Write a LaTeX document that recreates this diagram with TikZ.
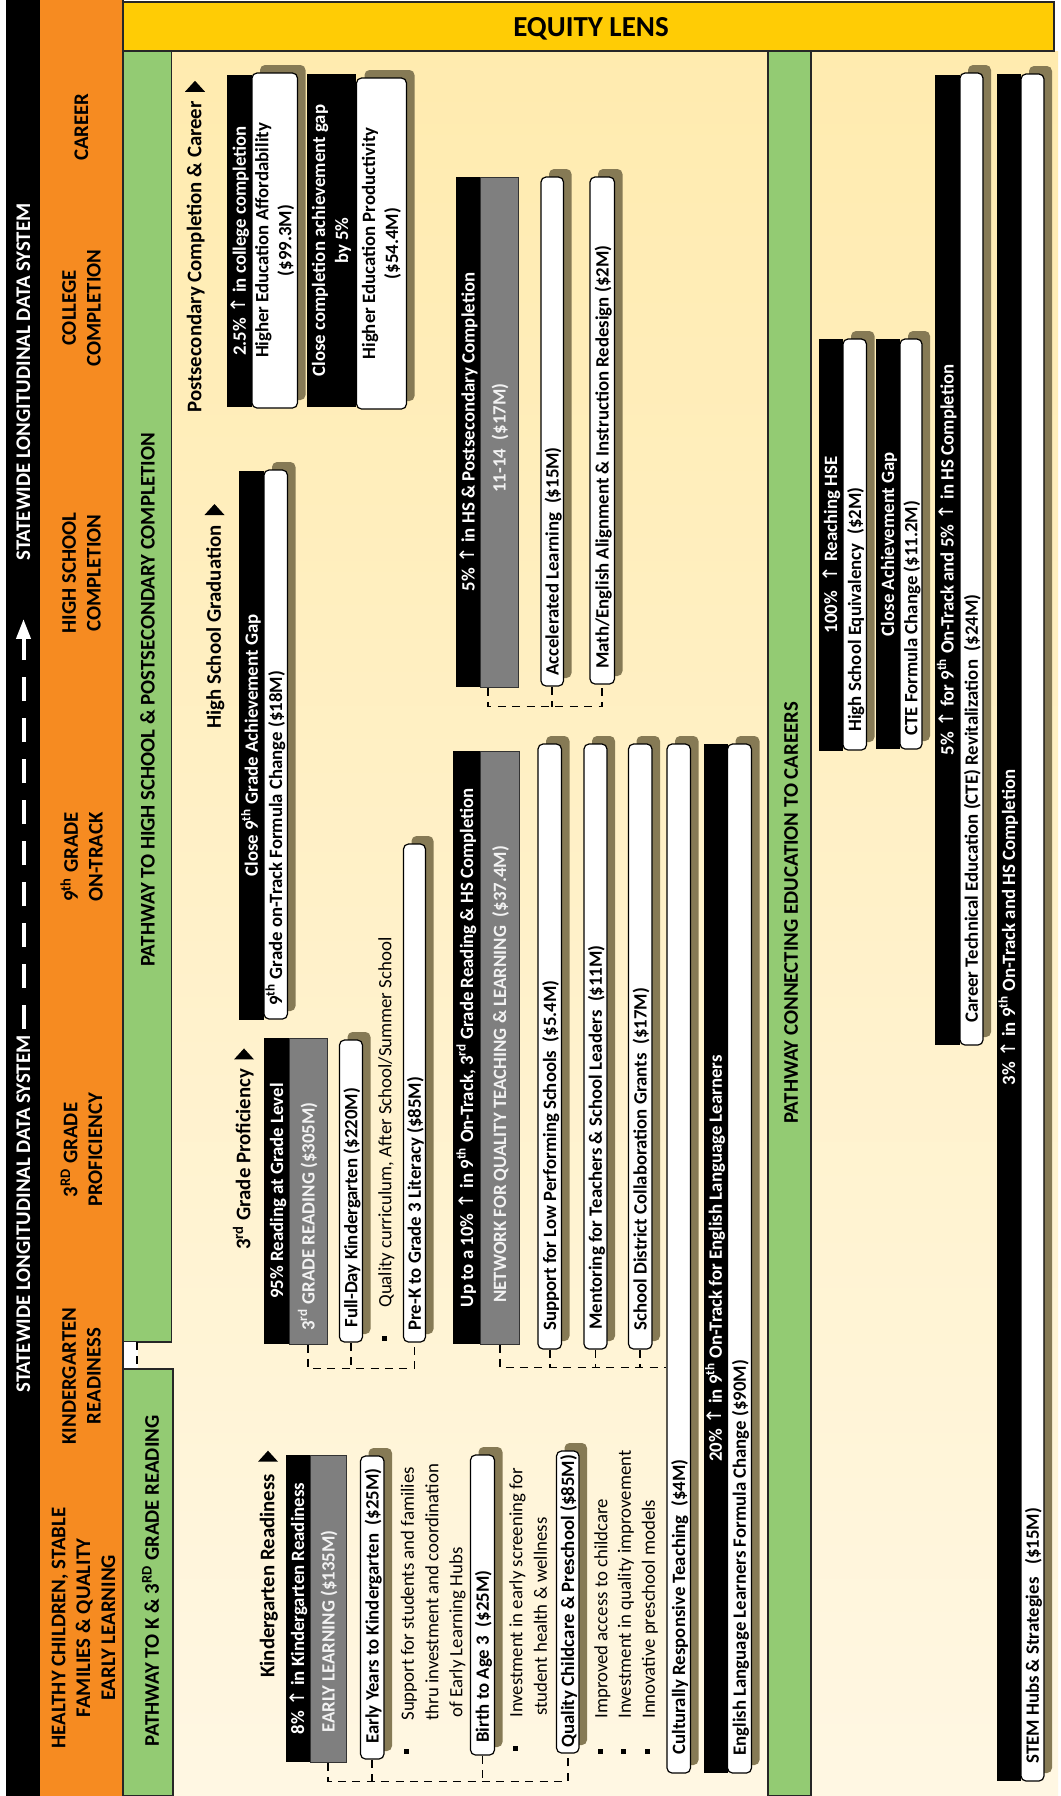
\documentclass[tikz,border=0pt]{standalone}
\usepackage{fontspec}
\setmainfont{Carlito}
\newfontfamily\arrf{DejaVu Sans}
\usetikzlibrary{arrows.meta}
\definecolor{orng}{HTML}{F68B21}
\definecolor{grn}{HTML}{93CB73}
\definecolor{ylw}{HTML}{FFCC05}
\definecolor{creamtop}{HTML}{FFEBAF}
\definecolor{creambot}{HTML}{FFF7E3}
\definecolor{shadowc}{HTML}{867A55}
\definecolor{graybox}{HTML}{7F7F7F}
\definecolor{graytext}{HTML}{F2F2F2}
\newcommand\bfs{\fontsize{9.4}{11.5}\selectfont\bfseries}
\newcommand\rgs{\fontsize{9.4}{12}\selectfont}
\newcommand\hds{\fontsize{10.4}{12.4}\selectfont\bfseries}
\newcommand\upa{{\arrf\mdseries\fontsize{10}{10}\selectfont ↑}}
\tikzset{
 onel/.style={text height=0.644em, text depth=0pt},
 bk/.style={fill=black, inner sep=0pt, text=white, font=\bfs, rotate=90},
 gy/.style={fill=graybox, draw=black!80, line width=0.5pt, inner sep=0pt, text=graytext, font=\bfs, rotate=90},
 wt/.style={fill=white, draw=black, line width=0.6pt, rounded corners=2.5pt, inner sep=0pt, font=\bfs, rotate=90},
 ltxt/.style={rotate=90, anchor=west, inner sep=0pt, font=\bfs, onel},
 rtxt/.style={rotate=90, anchor=west, inner sep=0pt, font=\rgs, onel},
 htxt/.style={rotate=90, inner sep=0pt, font=\hds, align=center},
 lblt/.style={rotate=90, anchor=west, inner sep=0pt, font=\hds, onel},
 conn/.style={line width=0.9pt, dash pattern=on 4pt off 3.2pt},
 frame/.style={draw=black!85, line width=0.6pt},
}
% \bx{name}{style}{x1}{y1}{x2}{y2}{text}
\newcommand\bx[7]{\node[#2, minimum width={(#6-#4)*0.5pt}, minimum height={(#5-#3)*0.5pt}] (#1) at ({(#3+#5)/2},{(#4+#6)/2}) {#7};}
\newcommand\shd[4]{\fill[shadowc, rounded corners=2.5pt] ({#1+8},{#2-8}) rectangle ({#3+8},{#4-8});}
% \wbx{name}{x1}{y1}{x2}{y2}{ystart}{text}
\newcommand\wbx[7]{\shd{#2}{#3}{#4}{#5}\bx{#1}{wt}{#2}{#3}{#4}{#5}{}\node[ltxt] (#1t) at ({(#2+#4)/2},#6) {#7};}
% gray box with text starting at ystart
\newcommand\gbx[7]{\bx{#1}{gy}{#2}{#3}{#4}{#5}{}\node[ltxt, text=graytext] (#1t) at ({(#2+#4)/2},#6) {#7};}
\newcommand\bul[2]{\fill ({#1-2.5},{#2-2.5}) rectangle ({#1+2.5},{#2+2.5});}
\newcommand\tri[2]{\fill (#1.east) ++(-10,-#2) -- ++(20,0) -- ++(-10,-11) -- cycle;}
\begin{document}
\begin{tikzpicture}[x=0.5pt,y=-0.5pt]
\useasboundingbox (0,0) rectangle (1061,1796);
\fill[white] (0,0) rectangle (1061,1796);
\fill[black] (6,0) rectangle (40,1796);
\fill[orng] (40,0) rectangle (123,1796);
\shade[top color=creamtop,bottom color=creambot] (138,51) rectangle (1058,1796);
\draw[frame, fill=ylw] (123,2) rectangle (1054,51);
\draw[frame, fill=grn] (123,51) rectangle (171.5,1342);
\fill[white] (123.5,1342) rectangle (137,1369);
\draw[conn] (137,1342) -- (137,1369);
\draw[frame, fill=grn] (123,1369) rectangle (173,1796);
\draw[frame, fill=grn] (768,51) rectangle (811,1796);
\draw[frame] (123,0) -- (123,1796);

% titles
\node[font=\fontsize{14.5}{16}\selectfont\bfseries] (title) at (591,29) {EQUITY LENS};
\node[htxt, text=white] (sds1) at (23.5,382) {STATEWIDE LONGITUDINAL DATA SYSTEM};
\node[htxt, text=white] (sds2) at (23.5,1214) {STATEWIDE LONGITUDINAL DATA SYSTEM};
\draw[white, line width=2pt, dash pattern=on 12pt off 8.5pt, shorten <=3pt, shorten >=29pt, -{Triangle[length=10pt,width=7pt]}] (sds2.east) -- (sds1.west);

% orange headers
\node[htxt] (h1) at (83.5,1628) {HEALTHY CHILDREN, STABLE\\FAMILIES \& QUALITY\\EARLY LEARNING};
\node[htxt] (h2) at (81.5,1376) {KINDERGARTEN\\READINESS};
\node[htxt] (h3) at (81.5,1150) {3\textsuperscript{RD} GRADE\\PROFICIENCY};
\node[htxt] (h4) at (81.5,857) {9\textsuperscript{th} GRADE\\ON-TRACK};
\node[htxt] (h5) at (81.5,573) {HIGH SCHOOL\\COMPLETION};
\node[htxt] (h6) at (81.5,308) {COLLEGE\\COMPLETION};
\node[htxt] (h7) at (81.5,127) {CAREER};

% green headers
\node[htxt] (p1) at (147.5,700) {PATHWAY TO HIGH SCHOOL \& POSTSECONDARY COMPLETION};
\node[htxt] (p2) at (150.5,1581) {PATHWAY TO K \& 3\textsuperscript{RD} GRADE READING};
\node[htxt] (p3) at (791,913) {PATHWAY CONNECTING EDUCATION TO CAREERS};

% stage labels
\node[lblt] (L1) at (195,413) {Postsecondary Completion \& Career}; \tri{L1}{9}
\node[lblt] (L2) at (214.5,729) {High School Graduation}; \tri{L2}{10}
\node[lblt] (L3) at (244,1250) {3\textsuperscript{rd} Grade Proficiency}; \tri{L3}{9}
\node[lblt] (L4) at (268,1678) {Kindergarten Readiness}; \tri{L4}{12}

% college completion
\bx{B1}{bk,onel}{227}{75}{252}{407}{2.5\% \upa{} in college completion}
\shd{252}{73}{297.5}{408}
\bx{W1}{wt,align=center}{252}{73}{297.5}{408}{Higher Education Affordability\\(\$99.3M)}
\bx{B2}{bk,align=center}{307}{74}{356}{407}{Close completion achievement gap\\by 5\%}
\shd{356.5}{78}{406.5}{409}
\bx{W2}{wt,align=center}{356.5}{78}{406.5}{409}{Higher Education Productivity\\(\$54.4M)}

% high school graduation
\bx{B3}{bk,onel}{239}{471}{264}{1020}{Close 9\textsuperscript{th} Grade Achievement Gap}
\wbx{W3}{264}{470}{287.5}{1019}{1006}{9\textsuperscript{th} Grade on-Track Formula Change (\$18M)}

% 11-14
\bx{B4}{bk,onel}{456}{177}{480.5}{687}{5\% \upa{} in HS \& Postsecondary Completion}
\gbx{G4}{480.5}{177}{518}{687}{493}{11-14\ \ (\$17M)}
\wbx{W5}{541}{177}{563.5}{686}{676}{Accelerated Learning\ \ (\$15M)}
\wbx{W6}{590}{177}{614.5}{684}{669}{Math/English Alignment \& Instruction Redesign (\$2M)}

% 3rd grade
\bx{B7}{bk,onel}{264}{1038}{289.5}{1344}{95\% Reading at Grade Level}
\gbx{G7}{289.5}{1038}{327}{1344}{1331}{3\textsuperscript{rd} GRADE READING (\$305M)}
\wbx{W8}{339.5}{1040}{362.5}{1342}{1328}{Full-Day Kindergarten (\$220M)}
\bul{384}{1338}
\node[rtxt] (R1) at (385,1308) {Quality curriculum, After School/Summer School};
\wbx{W9}{403.5}{844}{425.5}{1342}{1331}{Pre-K to Grade 3 Literacy (\$85M)}

% network
\bx{B10}{bk,onel}{453}{751}{480.5}{1344}{Up to a 10\% \upa{} in 9\textsuperscript{th} On-Track, 3\textsuperscript{rd} Grade Reading \& HS Completion}
\gbx{G10}{480.5}{751}{519}{1344}{1303}{NETWORK FOR QUALITY TEACHING \& LEARNING\ \ (\$37.4M)}
\wbx{W11}{538}{744}{561.5}{1349}{1331}{Support for Low Performing Schools\ \ (\$5.4M)}
\wbx{W12}{584}{744}{607}{1349}{1330}{Mentoring for Teachers \& School Leaders\ \ (\$11M)}
\wbx{W13}{628.5}{744}{652}{1349}{1331}{School District Collaboration Grants\ \ (\$17M)}
\wbx{W14}{667}{744}{690.5}{1773}{1755}{Culturally Responsive Teaching\ \ (\$4M)}
\bx{B15}{bk,onel}{703.5}{744}{727.5}{1773}{20\% \upa{} in 9\textsuperscript{th} On-Track for English Language Learners}
\wbx{W15}{727.5}{744}{751.5}{1773}{1756}{English Language Learners Formula Change (\$90M)}

% careers
\bx{B16}{bk,onel}{818.5}{339}{843}{751}{100\%\ \ \upa{} Reaching HSE}
\wbx{W16}{843}{339}{866.5}{750}{732}{High School Equivalency\ \ (\$2M)}
\bx{B17}{bk,onel}{875.5}{339}{900}{749}{Close Achievement Gap}
\wbx{W17}{900}{339}{922}{749}{736}{CTE Formula Change (\$11.2M)}
\bx{B18}{bk,onel}{934.5}{75}{960}{1045}{5\% \upa{} for 9\textsuperscript{th} On-Track and 5\% \upa{} in HS Completion}
\wbx{W18}{960}{73}{983}{1045}{1023}{Career Technical Education (CTE) Revitalization\ \ (\$24M)}
\bx{B19}{bk,onel}{996.5}{74}{1021}{1781}{3\% \upa{} in 9\textsuperscript{th} On-Track and HS Completion}
\wbx{W19}{1021}{74}{1044}{1781}{1764}{STEM Hubs \& Strategies\ \ \ (\$15M)}

% early learning
\bx{B20}{bk,onel}{285.5}{1455}{310}{1762}{8\% \upa{} in Kindergarten Readiness}
\gbx{G20}{310}{1455}{346.5}{1762}{1733}{EARLY LEARNING (\$135M)}
\wbx{W21}{360.5}{1456}{384}{1759}{1744}{Early Years to Kindergarten\ \ (\$25M)}
\bul{406.5}{1751}
\node[rtxt] (R2a) at (407.5,1721) {Support for students and families};
\node[rtxt] (R2b) at (432,1721) {thru investment and coordination};
\node[rtxt] (R2c) at (456,1718) {of Early Learning Hubs};
\wbx{W22}{470.5}{1455}{494.5}{1755}{1743}{Birth to Age 3\ \ (\$25M)}
\bul{515}{1748}
\node[rtxt] (R3a) at (516,1718) {Investment in early screening for};
\node[rtxt] (R3b) at (540.5,1716) {student health \& wellness};
\wbx{W23}{556.5}{1451}{579}{1753}{1748}{Quality Childcare \& Preschool (\$85M)}
\bul{600}{1751}\bul{623.5}{1751}\bul{647.5}{1751}
\node[rtxt] (R4a) at (601,1719) {Improved access to childcare};
\node[rtxt] (R4b) at (624.5,1719) {Investment in quality improvement};
\node[rtxt] (R4c) at (648.5,1719) {Innovative preschool models};

% dashed connectors
\path (G20.west) ++(0,19) coordinate (d1);
\draw[conn] (G20.west) -- (d1) -| (W23.west);
\draw[conn] (W21.west) -- (W21.west |- d1);
\draw[conn] (W22.west) -- (W22.west |- d1);
\path (G7.west) ++(0,24) coordinate (d2);
\draw[conn] (G7.west) -- (d2) -| (W9.west);
\draw[conn] (W8.west) -- (W8.west |- d2);
\path (G10.west) ++(0,23) coordinate (d3);
\draw[conn] (G10.west) -- (d3) -- (d3 -| W14.north);
\draw[conn] (W11.west) -- (W11.west |- d3);
\draw[conn] (W12.west) -- (W12.west |- d3);
\draw[conn] (W13.west) -- (W13.west |- d3);
\coordinate (x488) at (488,0);
\path (G4.west -| x488) coordinate (d4s);
\path (d4s) ++(0,19) coordinate (d4);
\draw[conn] (d4s) -- (d4) -| (W6.west);
\draw[conn] (W5.west) -- (W5.west |- d4);
\end{tikzpicture}
\end{document}
